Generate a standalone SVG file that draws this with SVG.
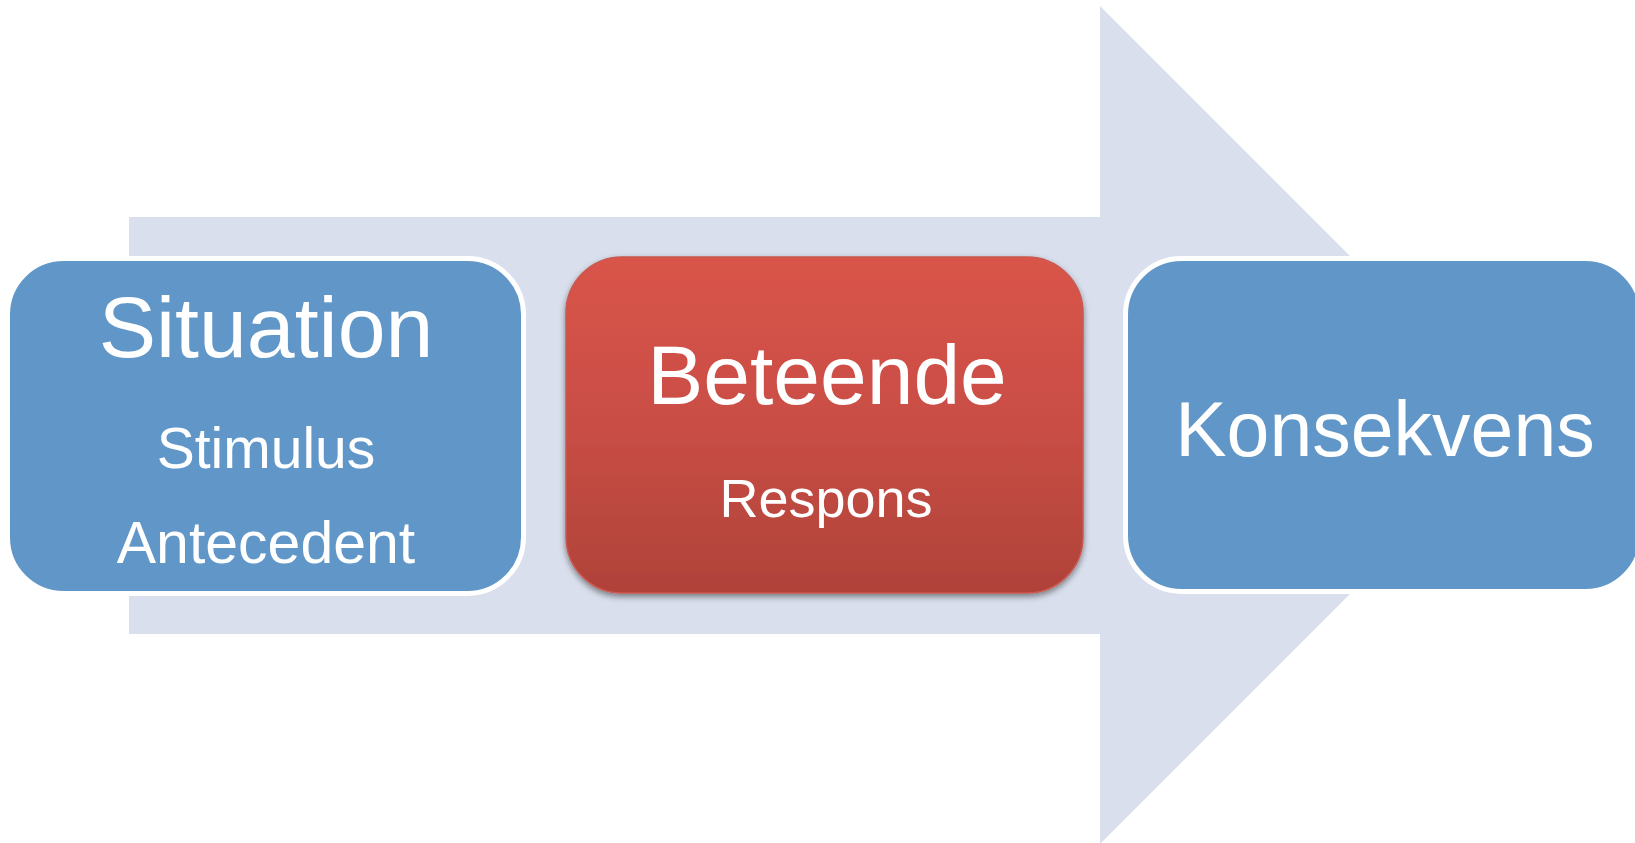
<svg xmlns="http://www.w3.org/2000/svg" width="1635" height="843" viewBox="0 0 1635 843">
<style>
.t{font-family:"Liberation Sans",Arial,sans-serif;fill:#ffffff;text-anchor:middle}
.blue{fill:#6197C8;stroke:#ffffff;stroke-width:5}
</style>
<defs>
<linearGradient id="redg" x1="0" y1="0" x2="0" y2="1">
<stop offset="0" stop-color="#D9544A"/>
<stop offset="0.5" stop-color="#C94E45"/>
<stop offset="1" stop-color="#AF4239"/>
</linearGradient>
<filter id="sh" x="-10%" y="-10%" width="120%" height="125%">
<feDropShadow dx="0" dy="3" stdDeviation="3" flood-color="#000000" flood-opacity="0.45"/>
</filter>
</defs>
<rect width="1635" height="843" fill="#ffffff"/>
<g id="connectors">
<polygon points="129,217 1100,217 1100,6 1519,425 1100,844 1100,634 129,634" fill="#D9DFED"/>
</g>
<g id="node-situation">
<rect class="blue" x="7.5" y="258.5" width="516" height="335" rx="56" ry="56"/>
<text class="t" x="266" y="357" font-size="86">Situation</text>
<text class="t" x="266" y="468" font-size="57">Stimulus</text>
<text class="t" x="266" y="563" font-size="59">Antecedent</text>
</g>
<g id="node-beteende">
<rect x="566" y="257" width="517" height="336" rx="56" ry="56" fill="url(#redg)" stroke="#C95850" stroke-width="1.5" filter="url(#sh)"/>
<text class="t" x="827" y="404" font-size="84">Beteende</text>
<text class="t" x="826" y="517" font-size="54">Respons</text>
</g>
<g id="node-konsekvens">
<rect class="blue" x="1125.5" y="258.5" width="516" height="333" rx="56" ry="56"/>
<text class="t" x="1385" y="456" font-size="77">Konsekvens</text>
</g>
</svg>
